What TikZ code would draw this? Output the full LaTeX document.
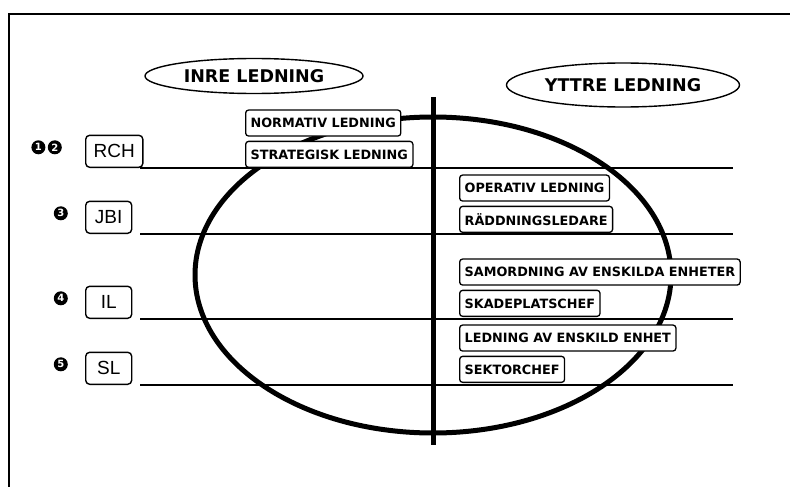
\documentclass[tikz,border=0pt]{standalone}
\usepackage{fontspec}
\setmainfont{Liberation Sans}
\newfontfamily\labfont{DejaVu Sans}
\usetikzlibrary{shapes.geometric,positioning}
\tikzstyle{oval} = [ellipse, draw = black, line width = 1.4pt, inner sep = 0pt, font = \labfont\bfseries\fontsize{17.5}{19}\selectfont]
\tikzstyle{niva} = [rectangle, rounded corners = 4pt, draw = black, line width = 1.4pt, fill = white, minimum width = 46pt, minimum height = 32pt, inner xsep = 8pt, font = \fontsize{19}{21}\selectfont]
\tikzstyle{rubrik} = [rectangle, rounded corners = 3pt, draw = black, line width = 1.3pt, fill = white, minimum height = 26pt, inner xsep = 5pt, font = \labfont\bfseries\fontsize{12.8}{14}\selectfont]
\tikzstyle{siffra} = [circle, fill = black, text = white, inner sep = 0pt, minimum size = 14pt, font = \labfont\bfseries\fontsize{10}{10}\selectfont]
\tikzstyle{linje} = [line width = 1.5pt]

\begin{document}
\begin{tikzpicture}[x = 1pt, y = -1pt]
	\useasboundingbox (0,0) rectangle (790,487);
	
	% ram
	\draw[line width = 2pt] (9,487) -- (9,14) -- (790,14);
	
	\node[oval, minimum width = 218pt, minimum height = 35pt](inre) at (254,76){INRE LEDNING};
	\node[oval, minimum width = 233pt, minimum height = 44pt](yttre) at (623,85){YTTRE LEDNING};
	
	\draw[line width = 5pt] (433,275) ellipse [x radius = 238, y radius = 158];
	\draw[line width = 5pt] (433,97) -- (433,445);
	
	\coordinate (a) at (140,168);
	\coordinate (b) at (140,234);
	\coordinate (c) at (140,319);
	\coordinate (d) at (140,385);
	\draw[linje] (a) -- +(593,0);
	\draw[linje] (b) -- +(593,0);
	\draw[linje] (c) -- +(593,0);
	\draw[linje] (d) -- +(593,0);
	
	\node[niva, anchor = south west](rch) at (85,168){RCH};
	\node[niva, anchor = south west](jbi) at (85,234){JBI};
	\node[niva, anchor = south west](il) at (85,319){IL};
	\node[niva, anchor = south west](sl) at (85,385){SL};
	
	\node[siffra, left = 23pt of rch.west, yshift = 4pt](n2){2};
	\node[siffra, left = 2pt of n2](n1){1};
	\node[siffra, left = 17pt of jbi.west, yshift = 4pt](n3){3};
	\node[siffra, left = 17pt of il.west, yshift = 4pt](n4){4};
	\node[siffra, left = 17pt of sl.west, yshift = 4pt](n5){5};
	
	\node[rubrik, anchor = south west](strat) at (245,168){STRATEGISK LEDNING};
	\node[rubrik, above right = 4pt and 0pt of strat.north west](norm){NORMATIV LEDNING};
	\node[rubrik, anchor = south west](radd) at (459,233){RÄDDNINGSLEDARE};
	\node[rubrik, above right = 4pt and 0pt of radd.north west](oper){OPERATIV LEDNING};
	\node[rubrik, anchor = south west](skade) at (459,317){SKADEPLATSCHEF};
	\node[rubrik, above right = 4pt and 0pt of skade.north west](samord){SAMORDNING AV ENSKILDA ENHETER};
	\node[rubrik, anchor = south west](sektor) at (459,383){SEKTORCHEF};
	\node[rubrik, above right = 4pt and 0pt of sektor.north west](enhet){LEDNING AV ENSKILD ENHET};
	
\end{tikzpicture}
\end{document}
